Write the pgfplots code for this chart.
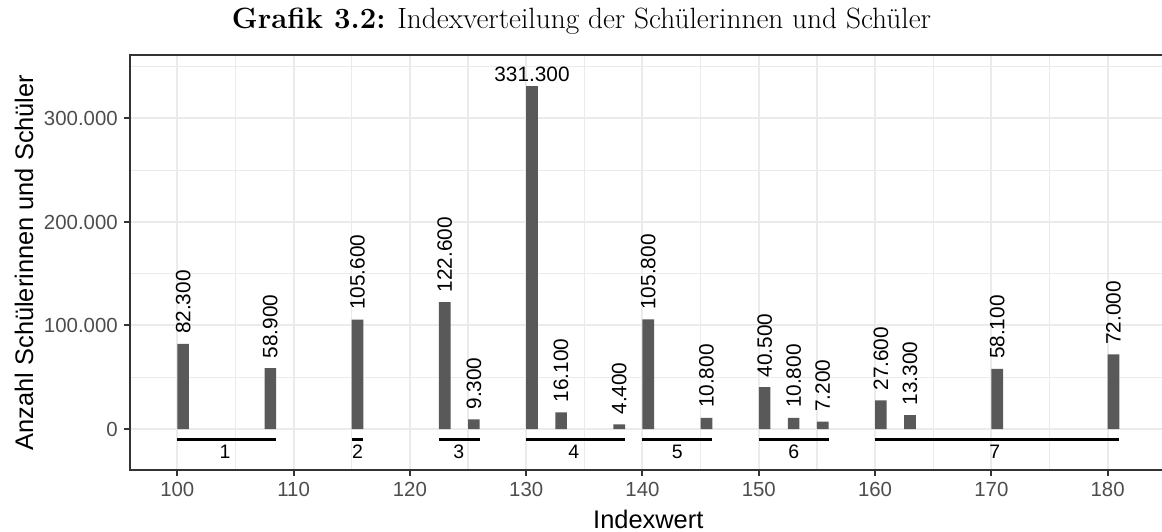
\documentclass[border=0pt]{standalone}
\usepackage{fontspec}
\usepackage{pgfplots}
\usepackage{pgfplotstable}
\pgfplotsset{compat=1.18}
\newfontfamily\arial{Liberation Sans}
\definecolor{barc}{HTML}{595959}
\definecolor{gridc}{HTML}{EBEBEB}
\definecolor{bordc}{HTML}{333333}
\definecolor{tickc}{HTML}{4D4D4D}
\newcommand\labfont{\arial\fontsize{15.6bp}{18bp}\selectfont}
\newcommand\grpfont{\arial\fontsize{14.6bp}{17bp}\selectfont}

\pgfplotstableread{
x y
100.5 82300
108 58900
115.5 105600
123 122600
125.5 9300
130.5 331300
133 16100
138 4400
140.5 105800
145.5 10800
150.5 40500
153 10800
155.5 7200
160.5 27600
163 13300
170.5 58100
180.5 72000
}\bars

\pgfplotstableread{
x y lab
100.5 91600 82.300
108 68200 58.900
115.5 114900 105.600
123 131900 122.600
125.5 18600 9.300
133 25400 16.100
138 13700 4.400
140.5 115100 105.800
145.5 20100 10.800
150.5 49800 40.500
153 20100 10.800
155.5 16500 7.200
160.5 36900 27.600
163 22600 13.300
170.5 67400 58.100
180.5 81300 72.000
}\barlabs

\pgfplotstableread{
x y lab
104.1 -22200 1
115.5 -22200 2
124.2 -22200 3
134.1 -22200 4
143 -22200 5
153 -22200 6
170.3 -22200 7
}\grplabs

\begin{document}
\begin{tikzpicture}
\useasboundingbox (-97.65bp,-46.5bp) rectangle (773.85bp,352.5bp);
\begin{axis}[
  at={(0,0)}, anchor=south west,
  scale only axis, width=777.15bp, height=311.25bp,
  xmin=95.95, xmax=185.05, ymin=-39614, ymax=361353,
  scaled y ticks=false, scaled x ticks=false,
  axis line style={color=bordc, line width=1.5bp},
  tick pos=left, tick align=outside,
  major tick length=4.5bp, minor tick length=0pt,
  tick style={color=bordc, line width=1.5bp},
  xtick={100,110,...,180},
  xticklabels={100,110,120,130,140,150,160,170,180},
  minor xtick={105,115,...,175},
  ytick={0,100000,200000,300000},
  yticklabels={0,100.000,200.000,300.000},
  minor ytick={50000,150000,250000,350000},
  grid=both,
  major grid style={color=gridc, line width=1.5bp},
  minor grid style={color=gridc, line width=0.9bp},
  ticklabel style={font=\arial\fontsize{15.3bp}{18bp}\selectfont, text=tickc, inner sep=0pt},
  xticklabel style={anchor=base, yshift=-20bp+4.5bp},
  yticklabel style={anchor=east, xshift=-4.65bp},
  xlabel={Indexwert},
  ylabel={Anzahl Schülerinnen und Schüler},
  label style={font=\arial\fontsize{19.05bp}{22bp}\selectfont, inner sep=0pt},
  xlabel style={at={(axis description cs:0.5,-0.1398)}, anchor=base},
  ylabel style={at={(axis description cs:-0.0938,0.5)}, anchor=base},
  title={\textbf{Grafik 3.2:} Indexverteilung der Schülerinnen und Schüler},
  title style={font=\fontsize{22bp}{25bp}\selectfont, at={(axis description cs:0.4355,1.0458)}, anchor=base, inner sep=0pt},
  clip=false,
]
\addplot[ybar, bar width=1, fill=barc, draw=none] table[x=x,y=y] {\bars};
\addplot[draw=none, mark=none, nodes near coords, point meta=explicit symbolic,
  every node near coord/.append style={rotate=90, anchor=west, inner sep=0pt, font=\labfont, text=black}]
  table[x=x,y=y,meta=lab] {\barlabs};
\addplot[draw=none, mark=none, nodes near coords, point meta=explicit symbolic,
  every node near coord/.append style={anchor=base, inner sep=0pt, font=\labfont, text=black}]
  coordinates {(130.5,335560) [331.300]};
\addplot[black, line width=1.9bp] coordinates {(100,-10000) (108.5,-10000)};
\addplot[black, line width=1.9bp] coordinates {(115,-10000) (116,-10000)};
\addplot[black, line width=1.9bp] coordinates {(122.5,-10000) (126,-10000)};
\addplot[black, line width=1.9bp] coordinates {(130,-10000) (138.5,-10000)};
\addplot[black, line width=1.9bp] coordinates {(140,-10000) (146,-10000)};
\addplot[black, line width=1.9bp] coordinates {(150,-10000) (156,-10000)};
\addplot[black, line width=1.9bp] coordinates {(160,-10000) (181,-10000)};
\addplot[draw=none, mark=none, nodes near coords, point meta=explicit symbolic,
  every node near coord/.append style={anchor=center, inner sep=0pt, font=\grpfont, text=black}]
  table[x=x,y=y,meta=lab] {\grplabs};
\end{axis}
\end{tikzpicture}
\end{document}
